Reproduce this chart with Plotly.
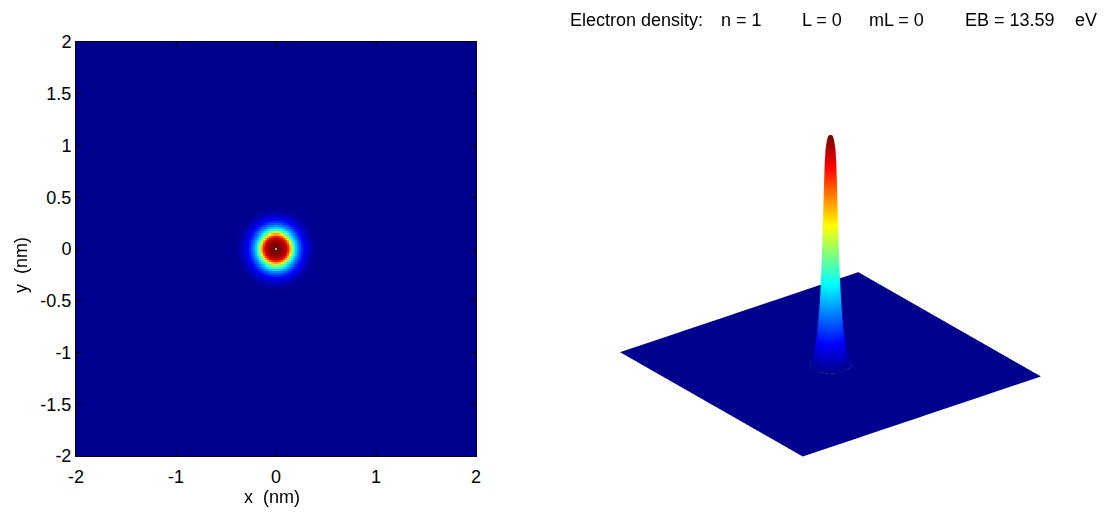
import numpy as np
import plotly.graph_objects as go

# State shown in the heading
n_q, l_q, ml_q = 1, 0, 0
binding_energy_ev = 13.59

# Radial profile of the normalised electron density (radius in nm)
radius_nm = [0.0, 0.02, 0.04, 0.06, 0.08, 0.10, 0.12, 0.14, 0.16, 0.18,
             0.20, 0.22, 0.24, 0.26, 0.28, 0.30, 0.33, 0.36, 0.40, 5.0]
density_rel = [0.35, 1.00, 1.00, 0.99, 0.97, 0.94, 0.86, 0.72, 0.55, 0.42,
               0.32, 0.25, 0.20, 0.15, 0.11, 0.08, 0.05, 0.02, 0.0, 0.0]

# Simulation grid (nm)
grid_min, grid_max, grid_n = -3.0, 3.0, 301

x_tick_vals = [-2, -1, 0, 1, 2]
x_tick_text = ["-2", "-1", "0", "1", "2"]
y_tick_vals = [-2, -1.5, -1, -0.5, 0, 0.5, 1, 1.5, 2]
y_tick_text = ["-2", "-1.5", "-1", "-0.5", "0", "0.5", "1", "1.5", "2"]

# MATLAB-style jet colormap
jet = [
    [0.0, "rgb(0,0,143)"],
    [0.111, "rgb(0,0,255)"],
    [0.365, "rgb(0,255,255)"],
    [0.619, "rgb(255,255,0)"],
    [0.873, "rgb(255,0,0)"],
    [1.0, "rgb(128,0,0)"],
]

xs = np.linspace(grid_min, grid_max, grid_n)
ys = np.linspace(grid_min, grid_max, grid_n)
X, Y = np.meshgrid(xs, ys)
R = np.hypot(X, Y)
density = np.interp(R, radius_nm, density_rel)

FONT = "Arial, Liberation Sans, Helvetica, sans-serif"
NB = "\u00a0"
W, H = 1110, 514

fig = go.Figure()

fig.add_trace(go.Heatmap(
    x=xs, y=ys, z=density,
    colorscale=jet, zmin=0, zmax=1,
    showscale=False, zsmooth=False,
    xaxis="x", yaxis="y", hoverinfo="skip",
))

fig.add_trace(go.Surface(
    x=xs, y=ys, z=density,
    colorscale=jet, cmin=0, cmax=1,
    showscale=False, hoverinfo="skip",
    lighting=dict(ambient=1.0, diffuse=0.0, specular=0.0, roughness=1.0, fresnel=0.0),
    contours=dict(x=dict(highlight=False), y=dict(highlight=False), z=dict(highlight=False)),
    scene="scene",
))

axis_common = dict(
    range=[-2, 2],
    ticks="inside", ticklen=5, tickcolor="black", tickwidth=1,
    showline=True, linecolor="black", linewidth=1, mirror="ticks",
    showgrid=False, zeroline=False, automargin=False,
    tickfont=dict(family=FONT, size=18, color="black"),
)

d = 2.0
eye = dict(x=d * 0.547, y=d * 0.713, z=d * 0.438)
scale3d = 1.41

# Heading pieces: (text, left edge in px)
heading = [
    ("Electron density:", 571),
    (f"n = {n_q}", 722),
    (f"L = {l_q}", 803),
    (f"mL = {ml_q}", 870),
    (f"EB = {binding_energy_ev:.2f}", 966),
    ("eV", 1076),
]

annotations = [
    dict(text=t, xref="paper", yref="paper", x=(px - 3) / W, y=(H - 20) / H,
         xanchor="left", yanchor="middle", showarrow=False,
         font=dict(family=FONT, size=18, color="black"))
    for t, px in heading
]
annotations.append(dict(
    text="x" + NB + NB + "(nm)", xref="paper", yref="paper",
    x=272 / W, y=(H - 497) / H, xanchor="center", yanchor="middle", showarrow=False,
    font=dict(family=FONT, size=18, color="black"),
))
annotations.append(dict(
    text="y" + NB + NB + "(nm)", xref="paper", yref="paper", textangle=-90,
    x=21 / W, y=(H - 265) / H, xanchor="center", yanchor="middle", showarrow=False,
    font=dict(family=FONT, size=18, color="black"),
))

fig.update_layout(
    width=W, height=H,
    margin=dict(l=0, r=0, t=0, b=0),
    paper_bgcolor="white", plot_bgcolor="white",
    showlegend=False,
    xaxis=dict(
        domain=[76 / W, 476 / W],
        tickvals=x_tick_vals, ticktext=x_tick_text,
        ticklabelstandoff=4,
        anchor="y",
        **axis_common,
    ),
    yaxis=dict(
        domain=[(H - 456) / H, (H - 42) / H],
        tickvals=y_tick_vals, ticktext=y_tick_text,
        anchor="x",
        **axis_common,
    ),
    scene=dict(
        domain=dict(x=[0.501, 0.996], y=[0.100, 0.928]),
        xaxis=dict(visible=False, range=[grid_min, grid_max]),
        yaxis=dict(visible=False, range=[grid_min, grid_max]),
        zaxis=dict(visible=False, range=[0, 1]),
        aspectmode="manual",
        aspectratio=dict(x=scale3d, y=scale3d, z=0.847 * scale3d),
        camera=dict(eye=eye, center=dict(x=0, y=0, z=0), up=dict(x=0, y=0, z=1),
                    projection=dict(type="orthographic")),
        bgcolor="white",
    ),
    annotations=annotations,
)

fig.write_html("out.html")
